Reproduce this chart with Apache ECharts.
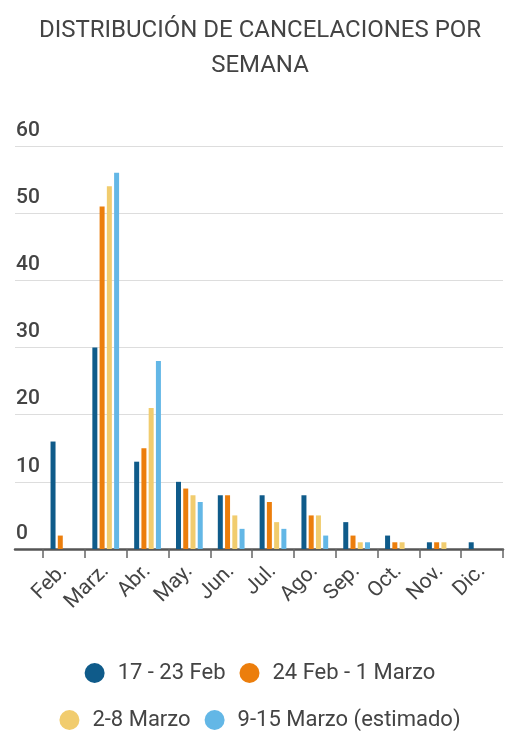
<!DOCTYPE html>
<html>
<head>
<meta charset="utf-8">
<script src="https://cdn.jsdelivr.net/npm/echarts@6/dist/echarts.min.js"></script>
<style>
	html, body { margin: 0; padding: 0; background: #fff; }
	#mychart { width: 520px; height: 751px; }
</style>
</head>
<body>
<div id="mychart"></div>
<script>
// datos
var meses = ['Feb.', 'Marz.', 'Abr.', 'May.', 'Jun.', 'Jul.', 'Ago.', 'Sep.', 'Oct.', 'Nov.', 'Dic.'];
var nombres = ['17 - 23 Feb', '24 Feb - 1 Marzo', '2-8 Marzo', '9-15 Marzo (estimado)'];
var semana1 = [16, 30, 13, 10, 8, 8, 8, 4, 2, 1, 1];
var semana2 = [2, 51, 15, 9, 8, 7, 5, 2, 1, 1, 0];
var semana3 = [0, 54, 21, 8, 5, 4, 5, 1, 1, 1, 0];
var semana4 = [0, 56, 28, 7, 3, 3, 2, 1, 0, 0, 0];
var colores = ['#0f5b8a', '#ec7e0c', '#f1cc6e', '#63b7e6'];

var fuente = 'Roboto';
var myChart = echarts.init(document.getElementById('mychart'));

function serie(i, datos) {
	return {
		name: nombres[i],
		type: 'bar',
		xAxisIndex: 1,
		yAxisIndex: 1,
		barWidth: 5,
		barGap: '45%',
		itemStyle: { color: colores[i] },
		data: datos
	};
}

function leyenda(items, top) {
	return {
		data: items,
		left: 'center',
		top: top,
		icon: 'circle',
		itemWidth: 20,
		itemHeight: 20,
		itemGap: 14,
		textStyle: { fontFamily: fuente, fontSize: 22, color: '#444', padding: [0, 0, 0, 8] }
	};
}

var option = {
	color: colores,
	animation: false,
	title: {
		text: 'DISTRIBUCIÓN DE CANCELACIONES POR\nSEMANA',
		left: 'center',
		top: 8,
		textStyle: {
			fontFamily: fuente,
			fontWeight: 'normal',
			fontSize: 24,
			color: '#444',
			lineHeight: 35
		}
	},
	legend: [leyenda(nombres.slice(0, 2), 657), leyenda(nombres.slice(2, 4), 704)],
	grid: [
		{ left: 15, right: 17, top: 146, bottom: 202 },
		{ left: 43, right: 17, top: 146, bottom: 202 }
	],
	xAxis: [{
		gridIndex: 0,
		type: 'category',
		data: [''],
		axisLine: { show: true, lineStyle: { color: '#555', width: 2.5 } },
		axisTick: { show: false },
		axisLabel: { show: false }
	}, {
		gridIndex: 1,
		type: 'category',
		data: meses,
		axisLine: { show: false },
		axisTick: { show: true, length: 9, lineStyle: { color: '#666', width: 1.5 } },
		axisLabel: {
			rotate: 45,
			margin: 19,
			fontFamily: fuente,
			fontSize: 21,
			color: '#444'
		}
	}],
	yAxis: [{
		gridIndex: 0,
		type: 'value',
		min: 0,
		max: 60,
		interval: 10,
		axisLine: { show: false },
		axisTick: { show: false },
		axisLabel: {
			inside: true,
			margin: 1,
			verticalAlign: 'bottom',
			padding: [0, 0, 5, 0],
			fontFamily: fuente,
			fontSize: 21,
			fontWeight: 500,
			color: '#444'
		},
		splitLine: { lineStyle: { color: '#ddd', width: 1 } }
	}, {
		gridIndex: 1,
		type: 'value',
		min: 0,
		max: 60,
		interval: 10,
		show: false,
		splitLine: { show: false }
	}],
	series: [
		serie(0, semana1),
		serie(1, semana2),
		serie(2, semana3),
		serie(3, semana4)
	]
};
myChart.setOption(option);
</script>
</body>
</html>
